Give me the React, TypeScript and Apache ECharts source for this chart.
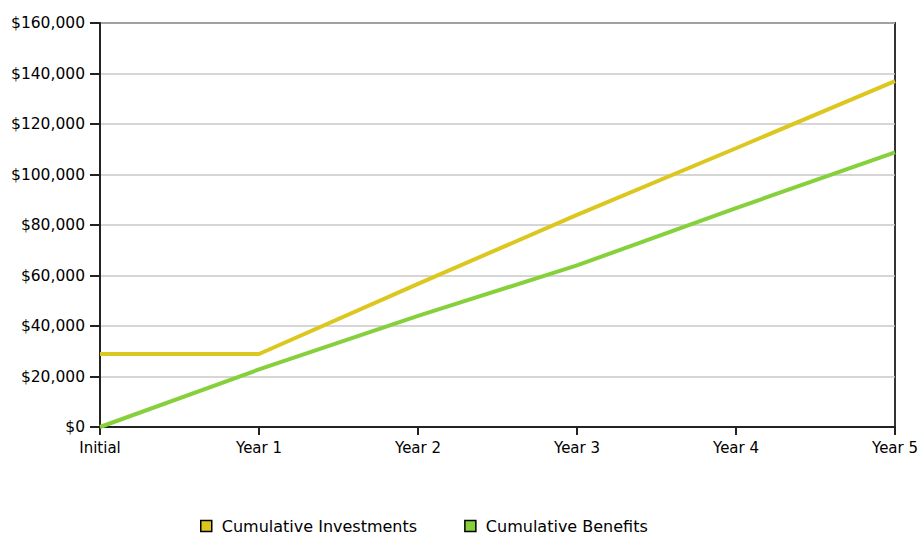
import React, { useEffect, useRef } from "react";
import * as echarts from "echarts";

const categories = ["Initial", "Year 1", "Year 2", "Year 3", "Year 4", "Year 5"];
const cumulativeInvestments = [28900, 28900, 56700, 84000, 110400, 137000];
const cumulativeBenefits = [0, 22800, 44000, 64000, 86700, 108800];

const FONT = "DejaVu Sans";
const YELLOW = "#dcc71f";
const GREEN = "#86d03c";

export default function App() {
  const ref = useRef<HTMLDivElement>(null);

  useEffect(() => {
    if (!ref.current) return;
    const chart = echarts.init(ref.current, undefined, { renderer: "svg" });
    chart.setOption({
      animation: false,
      backgroundColor: "#ffffff",
      textStyle: { fontFamily: FONT },
      grid: {
        left: 100,
        right: 27,
        top: 23,
        bottom: 109,
        show: true,
        borderColor: "#333333",
        borderWidth: 2,
        backgroundColor: "transparent",
      },
      legend: {
        left: 200,
        top: 518,
        padding: 0,
        itemWidth: 11,
        itemHeight: 11,
        itemGap: 47,
        icon: "rect",
        textStyle: {
          fontFamily: FONT,
          fontSize: 16,
          lineHeight: 16,
          color: "#000",
          padding: [0, 0, 0, 5],
        },
        itemStyle: { borderColor: "#000", borderWidth: 1.5 },
        data: [
          { name: "Cumulative Investments", itemStyle: { color: YELLOW } },
          { name: "Cumulative Benefits", itemStyle: { color: GREEN } },
        ],
      },
      xAxis: {
        type: "category",
        data: categories,
        boundaryGap: false,
        axisLine: { show: true, lineStyle: { color: "#222", width: 2 } },
        axisTick: { show: true, length: 8, lineStyle: { color: "#222", width: 2 } },
        axisLabel: { color: "#000", fontSize: 15, fontFamily: FONT, margin: 13 },
        splitLine: { show: false },
      },
      yAxis: {
        type: "value",
        min: 0,
        max: 160000,
        interval: 20000,
        axisLine: { show: true, lineStyle: { color: "#222", width: 2 } },
        axisTick: { show: true, length: 10, lineStyle: { color: "#222", width: 2 } },
        axisLabel: {
          color: "#000",
          fontSize: 15.5,
          fontFamily: FONT,
          margin: 15,
          formatter: (v: number) => "$" + v.toLocaleString("en-US"),
        },
        splitLine: { show: true, lineStyle: { color: "#c8c8c8", width: 1.5 } },
      },
      series: [
        {
          name: "Cumulative Investments",
          type: "line",
          data: cumulativeInvestments,
          symbol: "none",
          color: YELLOW,
          lineStyle: { color: YELLOW, width: 4 },
        },
        {
          name: "Cumulative Benefits",
          type: "line",
          data: cumulativeBenefits,
          symbol: "none",
          color: GREEN,
          lineStyle: { color: GREEN, width: 4 },
        },
      ],
    });
    return () => chart.dispose();
  }, []);

  return (
    <div
      ref={ref}
      style={{ position: "absolute", left: 0, top: 0, width: 922, height: 536 }}
    />
  );
}
